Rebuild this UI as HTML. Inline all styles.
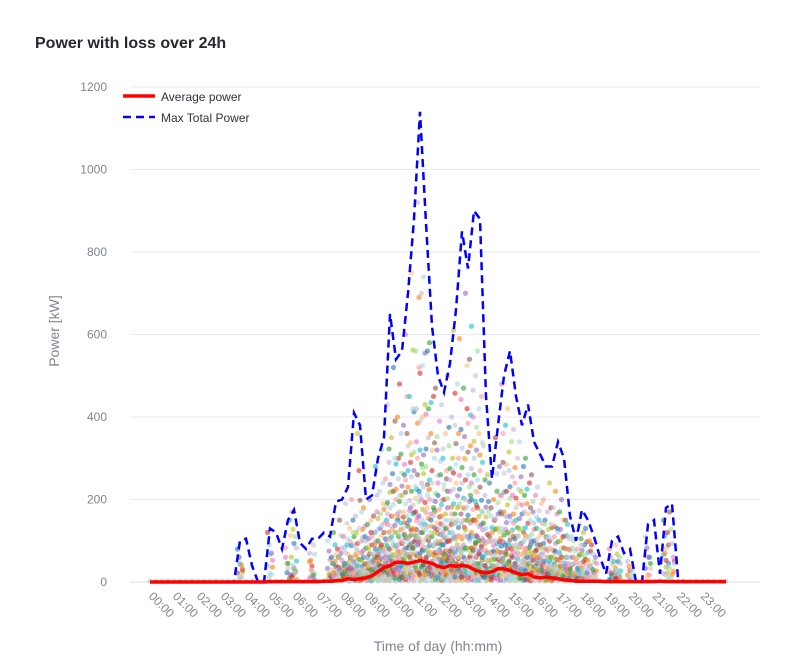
<!DOCTYPE html>
<html><head><meta charset="utf-8">
<style>
body{margin:0;background:#fff;width:801px;height:667px;overflow:hidden;font-family:"Liberation Sans",sans-serif}
svg text{font-family:"Liberation Sans",sans-serif}
</style></head>
<body>
<svg id="chart" width="801" height="667" xmlns="http://www.w3.org/2000/svg">
<text x="35" y="48" font-size="16" font-weight="bold" fill="#262730">Power with loss over 24h</text>
<g id="grid"></g>
<g id="yticks"></g>
<g id="xticks"></g>
<g id="dots"></g>
<g id="lines"></g>
<text transform="translate(59,331) rotate(-90)" text-anchor="middle" font-size="14" fill="#808495">Power [kW]</text>
<text x="438" y="651" text-anchor="middle" font-size="14" fill="#808495">Time of day (hh:mm)</text>
<g>
<g>
<line x1="123" y1="96" x2="155" y2="96" stroke="#ff0000" stroke-width="3.5"/>
<text x="161" y="101" font-size="12" fill="#31333f">Average power</text></g>
<g>
<line x1="123" y1="117" x2="155" y2="117" stroke="#0000ff" stroke-width="2.5" stroke-dasharray="8,5"/>
<text x="161" y="122" font-size="12" fill="#31333f">Max Total Power</text></g>
</g>
</svg>
<script>
const yTicks=[0,200,400,600,800,1000,1200];
const hourLabels=["00:00","01:00","02:00","03:00","04:00","05:00","06:00","07:00","08:00","09:00","10:00","11:00","12:00","13:00","14:00","15:00","16:00","17:00","18:00","19:00","20:00","21:00","22:00","23:00"];
// 15-minute slots, 0..96
const maxPower=[0,0,0,0,0,0,0,0,0,0,0,0,0,0,0,100,105,40,0,0,130,120,80,150,175,95,80,105,105,120,110,195,200,230,410,380,200,210,300,350,650,540,560,700,880,1140,870,620,500,460,530,660,850,760,900,880,450,250,380,500,560,450,380,430,340,310,280,280,340,300,160,100,175,150,110,60,20,100,110,70,80,0,0,140,150,20,180,190,10,0,0,0,0,0,0,0,0];
const avgPower=[0,0,0,0,0,0,0,0,0,0,0,0,0,0,0,0,0,0,0,0,1,1,1,1,1,1,1,1,1,2,2,3,4,8,6,8,10,15,25,35,40,48,48,45,48,52,48,45,38,35,40,38,40,38,30,25,22,25,32,32,28,22,18,20,12,10,12,10,8,5,4,2,2,2,2,2,1,1,1,1,1,1,1,1,1,2,1,1,1,1,1,1,1,1,1,1,1];
const dotSlots=[15,20,23,24,27,30,31,32,33,34,35,36,37,38,39,40,41,42,43,44,45,46,47,48,49,50,51,52,53,54,55,56,57,58,59,60,61,62,63,64,65,66,67,68,69,70,71,72,73,74,77,78,80,83,86,87];
const dotVals=[
[80,40],[120,70],[60,150],[170,110,40],[70,90,30],[100,60,20],[120,80,50,30],[150,110,70,40,20],[190,130,90,60,30,10],[200,160,120,80,50,30],
[360,170,130,100,70,40,20],[180,140,110,80,60,30],[200,160,120,90,70,40,20],[280,220,170,130,100,80,50,30],[320,250,190,150,120,90,60,30],
[430,350,290,220,180,140,110,80,50,25],[520,400,300,250,200,160,120,90,60,30],[480,380,310,260,210,170,130,100,70,40],[600,450,360,290,230,190,150,110,80,40],[750,560,420,340,270,220,170,130,90,50],
[920,700,520,400,320,260,200,160,120,70,30],[740,560,430,350,280,230,180,140,100,60],[580,450,360,300,240,200,160,120,90,50],[470,390,320,260,210,170,130,100,70,40],[430,360,300,250,200,160,130,90,60,30],
[500,400,330,270,220,180,140,100,70,40],[610,480,380,300,240,190,150,110,80,40],[590,470,370,300,240,190,150,110,80,40],[700,540,420,330,260,200,150,110,70,40],[620,500,400,320,260,200,150,110,70,40],
[560,450,360,290,230,180,140,100,60,30],[330,260,210,170,130,100,70,40],[240,200,160,130,100,70,40],[350,280,220,170,130,100,60,30],[480,380,290,220,170,130,90,50],
[420,340,270,210,160,120,80,40],[370,300,240,190,150,110,70,40],[340,280,220,170,130,90,60,30],[300,240,190,150,110,80,50,20],[260,210,170,130,100,70,40],
[230,190,150,120,90,60,30],[200,170,140,110,80,50,20],[240,180,140,110,80,50,20],[220,170,130,100,70,40],[200,150,110,80,50,20],
[140,110,80,60,30],[100,80,60,30],[140,120,90,60,30],[130,100,70,40],[90,60,30],[80,50,20],[90,60,30],[50,30],[110,60],[150,120,70],[170,60]];
const colors=["#1f77b4","#ff7f0e","#2ca02c","#d62728","#9467bd","#8c564b","#e377c2","#17becf","#aec7e8","#ffbb78","#98df8a","#ff9896","#c5b0d5","#c7c7c7","#bcbd22","#9edae5"];
const NS="http://www.w3.org/2000/svg";
const X0=150,STEP=6,Y0=582,K=495/1200,XR=760;
const xs=i=>X0+i*STEP;
const ys=v=>Y0-v*K;
function mk(tag,attrs,parent){const e=document.createElementNS(NS,tag);for(const k in attrs)e.setAttribute(k,attrs[k]);parent.appendChild(e);return e;}
const grid=document.getElementById('grid'),yt=document.getElementById('yticks'),xt=document.getElementById('xticks');
yTicks.forEach(v=>{
 const l=mk('line',{x1:130,x2:XR,y1:ys(v),y2:ys(v),stroke:v===0?'#dcdfe6':'#e8eaf0','stroke-width':1},grid);
 
 
 const t=mk('text',{x:107,y:ys(v)+4,'text-anchor':'end','font-size':12,fill:'#808495'},yt);
 
 
 t.textContent=v;
});
hourLabels.forEach((h,i)=>{
 const x=xs(i*4);
 const t=mk('text',{x:0,y:0,'font-size':12,fill:'#808495',transform:`translate(${x-2},${597}) rotate(45)`},xt);
 
 
 t.textContent=h;
});
const dots=document.getElementById('dots');
for(let i=0;i<maxPower.length;i++){
 const c=mk('circle',{cx:xs(i),cy:Y0-1,r:2.5,fill:'#999',opacity:0.35},dots);
 
 
}
const offs=[-2.5,0,2.5,-1,1.5];
const scl=[1,0.55,0.3,0.75,0.15];
dotSlots.forEach((s,j)=>{
 dotVals[j].forEach((v,k)=>{
  offs.forEach((off,m)=>{
   const val=v*scl[(m+k)%scl.length];
   const c=mk('circle',{cx:xs(s)+off,cy:ys(val),r:2.6,fill:colors[(j*3+k*5+m*7)%colors.length],opacity:0.6},dots);
   
   
  });
 });
});
const lines=document.getElementById('lines');
const pts=a=>a.map((v,i)=>xs(i)+','+ys(v).toFixed(1)).join(' ');
const mx=mk('polyline',{points:pts(maxPower),fill:'none',stroke:'#0000ff','stroke-width':2.5,'stroke-dasharray':'8,5'},lines);


const av=mk('polyline',{points:pts(avgPower),fill:'none',stroke:'#ff0000','stroke-width':3.5,'stroke-linejoin':'round'},lines);


</script>
</body></html>
